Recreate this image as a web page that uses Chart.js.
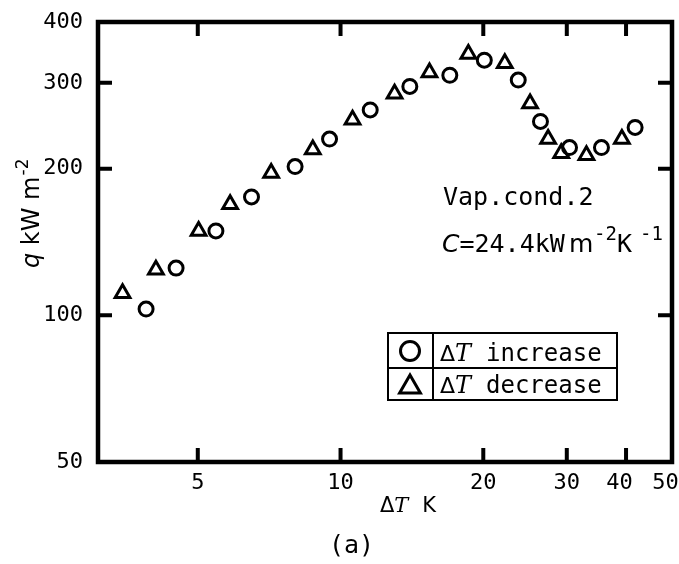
<!DOCTYPE html>
<html>
<head>
<meta charset="utf-8">
<script src="https://cdn.jsdelivr.net/npm/chart.js@4/dist/chart.umd.min.js"></script>
<style>
  html, body { margin: 0; padding: 0; background: #fff; }
  #wrap { width: 679px; height: 564px; }
</style>
</head>
<body>
<div id="wrap"><canvas id="qChart" width="679" height="564"></canvas></div>
<script>
// heat flux q vs wall superheat (log-log)
const incDT = [3.89, 4.50, 5.46, 6.49, 8.02, 9.48, 11.55, 14.0, 17.0, 20.1, 23.7, 26.4, 30.4, 35.5, 41.8];
const incQ  = [103, 125, 149, 175, 202, 230, 264, 295, 311, 334, 304, 250, 221, 221, 243];

const decDT = [3.47, 4.08, 5.02, 5.85, 7.14, 8.74, 10.6, 13.0, 15.4, 18.6, 22.2, 25.1, 27.4, 29.2, 33.0, 39.2];
const decQ  = [111, 124, 149, 169, 196, 219, 252, 285, 315, 344, 329, 272, 230, 215, 213, 230];

const xTicks = [5, 10, 20, 30, 40, 50];
const yTicks = [50, 100, 200, 300, 400];
const seriesNames = ["increase", "decrease"];

const MONO = '"DejaVu Sans Mono", monospace';
const SANS = '"DejaVu Sans", sans-serif';
const SERIF_IT = 'italic 24px "DejaVu Serif", serif';

function toPoints(xs, ys) {
  return xs.map((x, i) => ({ x: x, y: ys[i] }));
}

// draws a list of text pieces one after the other
function drawRun(ctx, parts, x, y) {
  parts.forEach(p => {
    ctx.font = p.font;
    const px = p.x !== undefined ? p.x : x + (p.dx || 0);
    ctx.fillText(p.text, px, y + (p.dy || 0));
    x = px + ctx.measureText(p.text).width + (p.gap || 0);
  });
}

function drawMarker(ctx, style, x, y, r, lw) {
  ctx.save();
  ctx.lineWidth = lw;
  ctx.strokeStyle = '#000';
  ctx.beginPath();
  if (style === 'circle') {
    ctx.arc(x, y, r, 0, Math.PI * 2);
  } else {
    ctx.moveTo(x, y - r);
    ctx.lineTo(x + r * Math.sin(Math.PI * 2 / 3), y - r * Math.cos(Math.PI * 2 / 3));
    ctx.lineTo(x + r * Math.sin(Math.PI * 4 / 3), y - r * Math.cos(Math.PI * 4 / 3));
    ctx.closePath();
  }
  ctx.stroke();
  ctx.restore();
}

const framePlugin = {
  id: 'frame',
  afterDatasetsDraw(chart) {
    const { ctx, chartArea: a, scales } = chart;
    ctx.save();
    ctx.strokeStyle = '#000';
    ctx.lineWidth = 4.5;
    ctx.strokeRect(a.left, a.top, a.right - a.left, a.bottom - a.top);

    // inward tick marks on all four sides
    const len = 14;
    ctx.lineWidth = 4;
    ctx.beginPath();
    scales.x.ticks.forEach(t => {
      const px = scales.x.getPixelForValue(t.value);
      if (px <= a.left + 3 || px >= a.right - 3) return;
      ctx.moveTo(px, a.bottom); ctx.lineTo(px, a.bottom - len);
      ctx.moveTo(px, a.top); ctx.lineTo(px, a.top + len);
    });
    scales.y.ticks.forEach(t => {
      const py = scales.y.getPixelForValue(t.value);
      if (py <= a.top + 3 || py >= a.bottom - 3) return;
      ctx.moveTo(a.left, py); ctx.lineTo(a.left + len, py);
      ctx.moveTo(a.right, py); ctx.lineTo(a.right - len, py);
    });
    ctx.stroke();
    ctx.restore();
  },
  afterDraw(chart) {
    const ctx = chart.ctx;
    ctx.save();
    ctx.fillStyle = '#000';
    ctx.textBaseline = 'alphabetic';
    ctx.textAlign = 'left';

    // y axis title, rotated
    ctx.save();
    ctx.translate(39, 268);
    ctx.rotate(-Math.PI / 2);
    drawRun(ctx, [
      { text: 'q', font: 'italic 24px ' + SANS },
      { text: ' kW m', font: '24px ' + SANS },
      { text: '-2', font: '17px ' + SANS, dy: -11, dx: 1 }
    ], 0, 0);
    ctx.restore();

    // x axis title
    drawRun(ctx, [
      { text: '\u0394', font: '21px ' + SANS },
      { text: 'T', font: 'italic 21px "DejaVu Serif", serif', gap: 14 },
      { text: 'K', font: '21px ' + SANS }
    ], 380, 512);

    // panel label
    ctx.font = '25px ' + MONO;
    ctx.fillText('(a)', 329, 553);

    // condition notes
    ctx.font = '25px ' + MONO;
    ctx.fillText('Vap.cond.2', 443, 205);
    drawRun(ctx, [
      { text: 'C', font: 'italic 25px ' + SANS },
      { text: '=24.4kW', font: '25px ' + MONO },
      { text: 'm', font: '25px ' + SANS, x: 569 },
      { text: '-2', font: '19px ' + MONO, dy: -12, x: 594 },
      { text: 'K', font: '25px ' + MONO, x: 617 },
      { text: '-1', font: '19px ' + MONO, dy: -12, x: 640 }
    ], 442, 252);

    // boxed legend
    const bx = 388, by = 333, bw = 229, bh = 67, div = 433, mid = 368;
    ctx.lineWidth = 2;
    ctx.strokeStyle = '#000';
    ctx.strokeRect(bx, by, bw, bh);
    ctx.beginPath();
    ctx.moveTo(bx, mid); ctx.lineTo(bx + bw, mid);
    ctx.moveTo(div, by); ctx.lineTo(div, by + bh);
    ctx.stroke();
    const rows = [
      { y: 351, base: 361 },
      { y: 385, base: 393 }
    ];
    chart.data.datasets.forEach((ds, i) => {
      const row = rows[i];
      if (ds.pointStyle === 'circle') drawMarker(ctx, 'circle', 410, row.y, 9.5, 3);
      else drawMarker(ctx, 'triangle', 410, row.y + 2, 12, 3);
      drawRun(ctx, [
        { text: '\u0394', font: '22px ' + SANS },
        { text: 'T', font: SERIF_IT }
      ], 440, row.base);
      ctx.font = '24px ' + MONO;
      ctx.fillText(seriesNames[i], 486, row.base);
    });
    ctx.restore();
  }
};

const tickFont = { family: 'DejaVu Sans Mono', size: 22 };

new Chart(document.getElementById('qChart').getContext('2d'), {
  type: 'scatter',
  data: {
    datasets: [
      {
        label: '\u0394T ' + seriesNames[0],
        data: toPoints(incDT, incQ),
        pointStyle: 'circle',
        pointRadius: 7,
        pointBorderWidth: 3,
        borderColor: '#000',
        backgroundColor: 'rgba(0,0,0,0)'
      },
      {
        label: '\u0394T ' + seriesNames[1],
        data: toPoints(decDT, decQ),
        pointStyle: 'triangle',
        pointRadius: 8.5,
        pointBorderWidth: 3,
        borderColor: '#000',
        backgroundColor: 'rgba(0,0,0,0)'
      }
    ]
  },
  options: {
    responsive: false,
    animation: false,
    events: [],
    layout: { autoPadding: false, padding: { top: 22, right: 7, left: 0, bottom: 0 } },
    plugins: {
      legend: { display: false },
      tooltip: { enabled: false }
    },
    scales: {
      x: {
        type: 'logarithmic',
        min: 3.08,
        max: 50,
        grid: { display: false, drawTicks: false },
        border: { display: false },
        afterBuildTicks: s => { s.ticks = xTicks.map(v => ({ value: v })); },
        afterFit: s => { s.height = 102; s.paddingLeft = 0; s.paddingRight = 0; },
        ticks: {
          autoSkip: false,
          maxRotation: 0,
          padding: 8,
          color: '#000',
          font: tickFont,
          callback: v => (v >= 40 ? v + '\u00a0' : String(v))
        }
      },
      y: {
        type: 'logarithmic',
        min: 50,
        max: 400,
        grid: { display: false, drawTicks: false },
        border: { display: false },
        afterBuildTicks: s => { s.ticks = yTicks.map(v => ({ value: v })); },
        afterFit: s => { s.width = 98; s.paddingTop = 0; s.paddingBottom = 0; },
        ticks: {
          padding: 15,
          color: '#000',
          font: tickFont,
          callback: v => String(v)
        }
      }
    }
  },
  plugins: [framePlugin]
});
</script>
</body>
</html>
